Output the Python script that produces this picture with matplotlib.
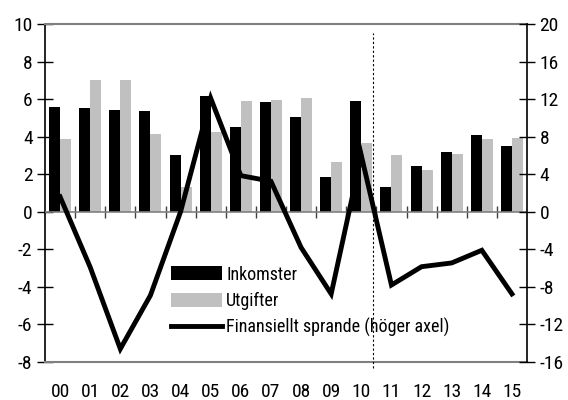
import numpy as np
import matplotlib
matplotlib.use("Agg")
import matplotlib.pyplot as plt
from matplotlib import font_manager
from matplotlib.patches import Patch
from matplotlib.lines import Line2D

# pick a condensed font if available
chosen = None
stretch = 'normal'
names = [(f.name, f.stretch) for f in font_manager.fontManager.ttflist]
for cand in ['Liberation Sans Narrow', 'Roboto Condensed', 'Open Sans Condensed',
             'DejaVu Sans Condensed', 'Noto Sans Condensed']:
    if any(n == cand for n, s in names):
        chosen = cand
        break
if chosen is None:
    for fam in ['Roboto', 'Open Sans', 'Noto Sans', 'DejaVu Sans']:
        if any(n == fam and str(s) in ('condensed', 'semi-condensed', 'extra-condensed')
               for n, s in names):
            chosen = fam
            stretch = 'condensed'
            break
if chosen is None:
    chosen = 'DejaVu Sans'
plt.rcParams['font.family'] = [chosen, 'DejaVu Sans']
plt.rcParams['font.stretch'] = stretch
plt.rcParams['font.size'] = 14

years = ["00", "01", "02", "03", "04", "05", "06", "07", "08", "09",
         "10", "11", "12", "13", "14", "15"]
inkomster = [5.6, 5.55, 5.4, 5.35, 3.05, 6.15, 4.5, 5.85, 5.05, 1.85,
             5.9, 1.3, 2.45, 3.2, 4.1, 3.5]
utgifter = [3.85, 7.0, 7.0, 4.15, 1.3, 4.25, 5.9, 5.95, 6.05, 2.65,
            3.65, 3.05, 2.2, 3.1, 3.9, 3.95]
sparande = [1.6, -5.9, -14.6, -8.9, 0.0, 12.1, 3.85, 3.25, -3.8, -8.75,
            6.0, -7.8, -5.85, -5.45, -4.1, -8.75]
left_ticks = [-8, -6, -4, -2, 0, 2, 4, 6, 8, 10]
right_ticks = [-16, -12, -8, -4, 0, 4, 8, 12, 16, 20]
labels = ["Inkomster", "Utgifter", "Finansiellt sprande (höger axel)"]

fig = plt.figure(figsize=(5.68, 4.0), dpi=100)
ax = fig.add_axes([45/568, 38/400, 482/568, 338/400])
x = np.arange(len(years))
w = 0.365
ax.bar(x - w/2, inkomster, width=w, color="black", zorder=2)
ax.bar(x + w/2, utgifter, width=w, color="#c0c0c0", zorder=2)
ax.set_xlim(-0.5, len(years) - 0.5)
ax.set_ylim(left_ticks[0], left_ticks[-1])
ax.set_yticks(left_ticks)
ax.set_yticklabels([str(t) for t in left_ticks])
ax.set_xticks(x)
ax.set_xticklabels(years)
ax.tick_params(axis='x', length=0, pad=15)
ax.tick_params(axis='y', direction='inout', length=12, width=1, pad=3)
for s in ['top', 'bottom']:
    ax.spines[s].set_color('#808080')
    ax.spines[s].set_linewidth(1.5)
ax.spines['left'].set_linewidth(1.2)
ax.spines['right'].set_visible(False)

# zero line with category-boundary ticks
ax.axhline(0, color='#808080', lw=1.2, zorder=3)
sec = ax.secondary_xaxis(-left_ticks[0] / (left_ticks[-1] - left_ticks[0]))
sec.set_xticks(np.arange(0.5, len(years) - 1, 1.0))
sec.tick_params(direction='inout', length=9, width=1, color='#404040', labelbottom=False)
sec.spines['bottom'].set_visible(False)

# forecast divider
ax.plot([10.4, 10.4], [-8.3, 9.5], color='black', lw=0.8, ls=(0, (2, 2)),
        clip_on=False, zorder=4)

ax2 = ax.twinx()
ax2.plot(x, sparande, color='black', lw=3.5, solid_joinstyle='miter', zorder=5)
ax2.set_ylim(right_ticks[0], right_ticks[-1])
ax2.set_yticks(right_ticks)
ax2.set_yticklabels([str(t) for t in right_ticks])
ax2.tick_params(axis='y', direction='inout', length=12, width=1, pad=3)
ax2.spines['right'].set_linewidth(1.2)
for s in ['top', 'bottom', 'left']:
    ax2.spines[s].set_visible(False)

handles = [Patch(facecolor='black'), Patch(facecolor='#c0c0c0'),
           Line2D([], [], color='black', lw=3.5)]
leg = ax2.legend(handles, labels, loc='upper left', bbox_to_anchor=(0.262, 0.285),
                 frameon=False, borderpad=0, borderaxespad=0, handlelength=2.8,
                 handleheight=0.8, handletextpad=0.25, labelspacing=0.45,
                 fontsize=13)

fig.savefig("out.png", dpi=100)
